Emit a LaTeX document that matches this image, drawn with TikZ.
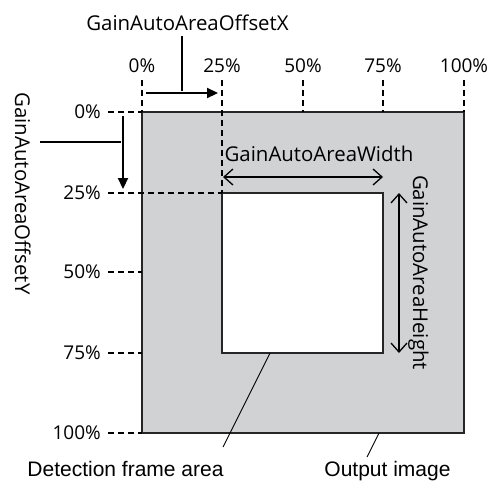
\documentclass[tikz,border=0pt]{standalone}
\usepackage{fontspec}
\setmainfont{Open Sans}
\newfontfamily\arialfont{Liberation Sans}
\usetikzlibrary{arrows.meta}
\definecolor{imggray}{RGB}{209,210,212}
\begin{document}
\begin{tikzpicture}[x=1pt,y=-1pt,
  tick/.style={line width=1.6pt,dash pattern=on 6pt off 4pt},
  frame/.style={line width=1.8pt,draw=black!85},
  pct/.style={font=\fontsize{19}{22}\selectfont,inner sep=0pt},
  lbl/.style={font=\fontsize{20.4}{24}\selectfont,inner sep=0pt},
  bot/.style={font=\arialfont\fontsize{21}{24}\selectfont,inner sep=0pt},
  bigarrow/.style={line width=2.2pt,-{Triangle[length=11pt,width=10pt]}},
  dimarrow/.style={line width=1.3pt,{Straight Barb[length=9pt,width=16pt]}-{Straight Barb[length=9pt,width=16pt]}},
  leader/.style={line width=0.9pt}]
\useasboundingbox (0,0) rectangle (495,482);

% output image and detection frame
\filldraw[frame,fill=imggray] (142,112) rectangle (464,433);
\coordinate (outer) at (379,433);
\filldraw[frame,fill=white] (222,193) rectangle (383,353);
\coordinate (inner) at (270,353);

% horizontal scale
\foreach \x/\t in {142/0,222/25,303/50,383/75,464/100} {
  \node[pct,anchor=base] (top\t) at (\x,72) {\t\%};
}
\foreach \x in {142,303,383,464} \draw[tick] (\x,80) -- (\x,112);
\draw[tick] (222,80) -- (222,193);

% vertical scale
\foreach \y/\t in {112/0,193/25,272/50,353/75,433/100} {
  \node[pct,anchor=east] (left\t) at (101,\y) {\t\%};
}
\foreach \y in {112,272,353,433} \draw[tick] (108,\y) -- (142,\y);
\draw[tick] (108,193) -- (222,193);

% offset X
\node[lbl,anchor=base] (offx) at (187.5,30) {GainAutoAreaOffsetX};
\coordinate (ax0) at (146,93);
\coordinate (ax1) at (218,93);
\draw[bigarrow] (ax0) -- (ax1);
\draw[line width=1.6pt] (182,36) -- (182,91);

% offset Y
\node[lbl,rotate=-90,anchor=base] (offy) at (15,193.5) {GainAutoAreaOffsetY};
\coordinate (ay0) at (123,116);
\coordinate (ay1) at (123,189);
\draw[bigarrow] (ay0) -- (ay1);
\draw[line width=1.6pt] (40,142) -- (121,142);

% width and height
\node[lbl,anchor=base] (wl) at (319,161) {GainAutoAreaWidth};
\draw[dimarrow] (223,177) -- (383,177);
\node[lbl,rotate=-90,anchor=base] (hl) at (413,272.5) {GainAutoAreaHeight};
\draw[dimarrow] (399,193) -- (399,353);

% callouts
\node[bot,anchor=base] (det) at (125.5,476) {Detection frame area};
\node[bot,anchor=base] (out) at (387.5,476) {Output image};
\draw[leader] (inner) -- (223,447);
\draw[leader] (outer) -- (367,457);
\end{tikzpicture}
\end{document}
